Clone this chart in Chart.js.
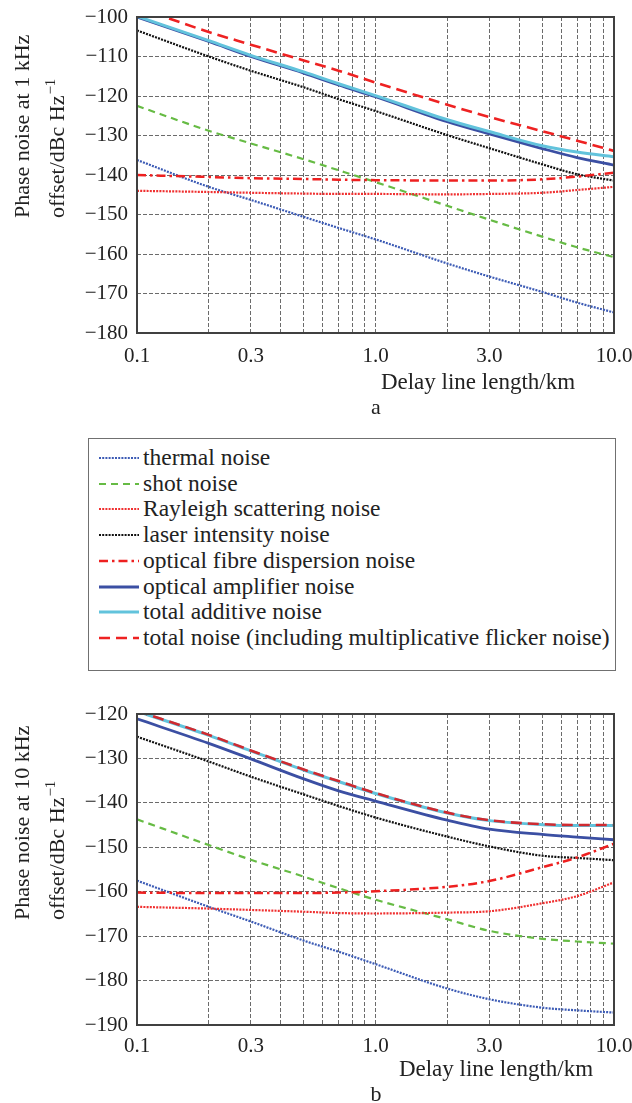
<!DOCTYPE html>
<html>
<head>
<meta charset="utf-8">
<script src="https://cdn.jsdelivr.net/npm/chart.js@4.4.1/dist/chart.umd.min.js"></script>
<style>
  body { margin: 0; background: #fff; width: 632px; height: 1103px; position: relative; overflow: hidden;
         font-family: "Liberation Serif", "Times New Roman", serif; color: #222; }
  canvas { position: absolute; left: 0; }
  #chartA { top: 0; }
  #chartB { top: 690px; }
  #legend { position: absolute; left: 88px; top: 438px; width: 526px; height: 231px; border: 1.5px solid #707070; }
  .row { position: absolute; left: 0; height: 26px; width: 524px; }
  .row svg { position: absolute; left: 9px; top: 0; }
  .row span { position: absolute; left: 54px; top: -1px; font-size: 23.5px; line-height: 26px; white-space: nowrap; }
</style>
</head>
<body>
<canvas id="chartA" width="632" height="420"></canvas>
<div id="legend"></div>
<canvas id="chartB" width="632" height="413"></canvas>
<script>
// delay line length, km
const distanceKm = [0.1, 0.2, 0.3, 0.5, 0.7, 1, 2, 3, 5, 7, 10];

// phase noise at 1 kHz offset, dBc/Hz
const thermalA    = [-136.2, -143.0, -146.3, -150.6, -153.4, -156.3, -162.4, -165.7, -169.6, -172.3, -174.8];
const shotA       = [-122.5, -128.8, -132.0, -136.0, -138.8, -141.8, -147.8, -151.3, -155.6, -158.3, -160.8];
const rayleighA   = [-144.0, -144.3, -144.5, -144.7, -144.8, -144.8, -144.9, -144.8, -144.5, -143.8, -143.0];
const laserA      = [-103.4, -110.0, -113.6, -117.8, -120.8, -123.8, -129.9, -133.2, -137.3, -139.8, -141.4];
const dispersionA = [-140.0, -140.5, -140.8, -141.0, -141.2, -141.3, -141.4, -141.4, -141.1, -140.4, -139.4];
const amplifierA  = [-100.0, -106.2, -110.0, -114.2, -117.2, -120.2, -126.5, -129.6, -133.3, -135.6, -137.5];
const additiveA   = [-99.8, -106.0, -109.7, -113.9, -116.9, -119.9, -126.0, -129.0, -132.6, -134.2, -135.4];
const totalA      = [-97.5, -103.8, -107.0, -111.0, -113.6, -116.6, -122.2, -125.3, -128.9, -131.3, -133.9];

// phase noise at 10 kHz offset, dBc/Hz
const thermalB    = [-157.5, -163.4, -166.7, -171.0, -173.5, -176.3, -181.8, -184.2, -186.1, -186.7, -187.2];
const shotB       = [-143.7, -149.5, -152.8, -156.6, -159.2, -161.8, -166.2, -168.8, -170.6, -171.2, -171.7];
const rayleighB   = [-163.4, -163.8, -164.1, -164.5, -164.8, -164.9, -164.7, -164.4, -162.6, -161.0, -157.9];
const laserB      = [-125.1, -130.7, -134.1, -138.1, -140.7, -143.3, -147.6, -149.8, -151.9, -152.4, -152.9];
const dispersionB = [-160.2, -160.3, -160.3, -160.3, -160.2, -159.9, -158.9, -157.6, -154.5, -152.3, -149.2];
const amplifierB  = [-121.1, -126.6, -130.1, -134.6, -137.3, -139.6, -143.9, -145.9, -147.1, -147.7, -148.3];
const additiveB   = [-119.4, -124.8, -128.3, -132.6, -135.2, -137.9, -142.3, -144.0, -144.9, -145.1, -145.1];
const totalB      = [-119.3, -124.7, -128.2, -132.5, -135.1, -137.8, -142.2, -143.9, -144.8, -145.0, -145.0];

const seriesNames = [
  "thermal noise",
  "shot noise",
  "Rayleigh scattering noise",
  "laser intensity noise",
  "optical fibre dispersion noise",
  "optical amplifier noise",
  "total additive noise",
  "total noise (including multiplicative flicker noise)"
];

// x axis: labelled ticks and the extra log grid lines
const xTickValues = [0.1, 0.3, 1, 3, 10];
const xTickLabels = ["0.1", "0.3", "1.0", "3.0", "10.0"];
const xGridValues = [0.1, 0.2, 0.3, 0.4, 0.5, 0.6, 0.7, 0.8, 0.9, 1, 2, 3, 4, 5, 6, 7, 8, 9, 10];

const FONT = '"Liberation Serif", "Times New Roman", serif';

const styles = [
  { color: "#3c5bb5", dash: [2, 1.2], width: 2.2 },
  { color: "#66bb44", dash: [7, 5], width: 2.2 },
  { color: "#f03030", dash: [2, 1.2], width: 2.2 },
  { color: "#111111", dash: [2, 1.2], width: 2.2 },
  { color: "#ee2020", dash: [9, 4, 2.5, 4], width: 2.5 },
  { color: "#3b4fa3", dash: [], width: 2.8 },
  { color: "#62c3dc", dash: [], width: 3 },
  { color: "#ee2222", dash: [11, 6], width: 2.6 }
];
const drawOrder = [7, 6, 5, 4, 3, 2, 1, 0];

// frame, axis titles and panel letter
const axisText = {
  id: "axisText",
  afterDatasetsDraw(chart, args, o) {
    const ctx = chart.ctx;
    const a = chart.chartArea;
    ctx.save();
    ctx.strokeStyle = "#404040";
    ctx.lineWidth = 2;
    ctx.strokeRect(a.left, a.top, a.right - a.left, a.bottom - a.top);

    ctx.fillStyle = "#222";
    ctx.textBaseline = "alphabetic";
    ctx.font = "22px " + FONT;

    ctx.save();
    ctx.translate(o.line1X, o.yStart);
    ctx.rotate(-Math.PI / 2);
    ctx.textAlign = "left";
    ctx.fillText(o.yTitle1, 0, 0);
    ctx.restore();

    ctx.save();
    ctx.translate(o.line2X, o.yStart);
    ctx.rotate(-Math.PI / 2);
    ctx.textAlign = "left";
    ctx.fillText(o.yTitle2, 0, 0);
    const w = ctx.measureText(o.yTitle2).width;
    ctx.font = "15px " + FONT;
    ctx.fillText("\u22121", w + 1, -9);
    ctx.restore();

    ctx.font = "23px " + FONT;
    ctx.textAlign = "center";
    ctx.textBaseline = "middle";
    ctx.fillText("Delay line length/km", o.xTitleX, o.xTitleY);
    ctx.font = "22px " + FONT;
    ctx.fillText(o.letter, 376, o.letterY);
    ctx.restore();
  }
};

function makeChart(id, series, p) {
  const datasets = series.map((vals, i) => ({
    label: seriesNames[i],
    data: distanceKm.map((x, k) => ({ x: x, y: vals[k] })),
    borderColor: i === 7 && p.totalColor ? p.totalColor : styles[i].color,
    borderDash: styles[i].dash,
    borderWidth: styles[i].width,
    pointRadius: 0,
    fill: false,
    cubicInterpolationMode: "monotone",
    order: drawOrder[i]
  }));

  return new Chart(document.getElementById(id).getContext("2d"), {
    type: "line",
    data: { datasets: datasets },
    options: {
      responsive: false,
      animation: false,
      layout: { padding: { top: p.top, right: 18, left: 0, bottom: 0 } },
      plugins: {
        legend: { display: false },
        tooltip: { enabled: false },
        axisText: p.text
      },
      scales: {
        x: {
          type: "logarithmic",
          min: 0.1,
          max: 10,
          afterBuildTicks: (scale) => {
            scale.ticks = xGridValues.map(v => ({ value: v }));
          },
          afterFit: (scale) => {
            scale.height = p.canvasH - p.bottom;
            scale.paddingLeft = 0;
            scale.paddingRight = 0;
          },
          ticks: {
            autoSkip: false,
            maxRotation: 0,
            padding: p.xPad,
            color: "#222",
            font: { family: FONT, size: 21 },
            callback: (v) => {
              const k = xTickValues.findIndex(t => Math.abs(t - v) < 1e-9);
              return k >= 0 ? xTickLabels[k] : "";
            }
          },
          grid: { color: "rgba(70,70,70,0.8)", lineWidth: 1, drawTicks: false },
          border: { display: false, dash: [4, 2] }
        },
        y: {
          min: p.yMin,
          max: p.yMax,
          afterFit: (scale) => {
            scale.width = 137;
            scale.paddingTop = 0;
            scale.paddingBottom = 0;
          },
          ticks: {
            stepSize: 10,
            padding: 9,
            color: "#222",
            font: { family: FONT, size: 21 },
            callback: (v) => "\u2212" + Math.abs(v)
          },
          grid: { color: "rgba(70,70,70,0.8)", lineWidth: 1, drawTicks: false },
          border: { display: false, dash: [4, 2] }
        }
      }
    },
    plugins: [axisText]
  });
}

makeChart("chartA",
  [thermalA, shotA, rayleighA, laserA, dispersionA, amplifierA, additiveA, totalA],
  {
    canvasH: 420, top: 17, bottom: 333, xPad: 11, yMin: -180, yMax: -100,
    text: {
      yTitle1: "Phase noise at 1 kHz", yTitle2: "offset/dBc Hz",
      line1X: 29, line2X: 64, yStart: 218,
      xTitleX: 478, xTitleY: 383, letter: "a", letterY: 408
    }
  });

makeChart("chartB",
  [thermalB, shotB, rayleighB, laserB, dispersionB, amplifierB, additiveB, totalB],
  {
    canvasH: 413, top: 24, bottom: 335, xPad: 9, yMin: -190, yMax: -120, totalColor: "#d02a30",
    text: {
      yTitle1: "Phase noise at 10 kHz", yTitle2: "offset/dBc Hz",
      line1X: 29, line2X: 64, yStart: 230,
      xTitleX: 496, xTitleY: 380, letter: "b", letterY: 405
    }
  });

// legend box between the two panels
const legend = document.getElementById("legend");
seriesNames.forEach((name, i) => {
  const row = document.createElement("div");
  row.className = "row";
  row.style.top = (6 + i * 25.7) + "px";
  const s = styles[i];
  row.innerHTML =
    '<svg width="42" height="26"><line x1="1" y1="13" x2="41" y2="13" stroke="' + s.color +
    '" stroke-width="' + s.width + '" stroke-dasharray="' + (s.dash.length ? s.dash.join(",") : "none") +
    '"/></svg><span>' + name + '</span>';
  legend.appendChild(row);
});
</script>
</body>
</html>
